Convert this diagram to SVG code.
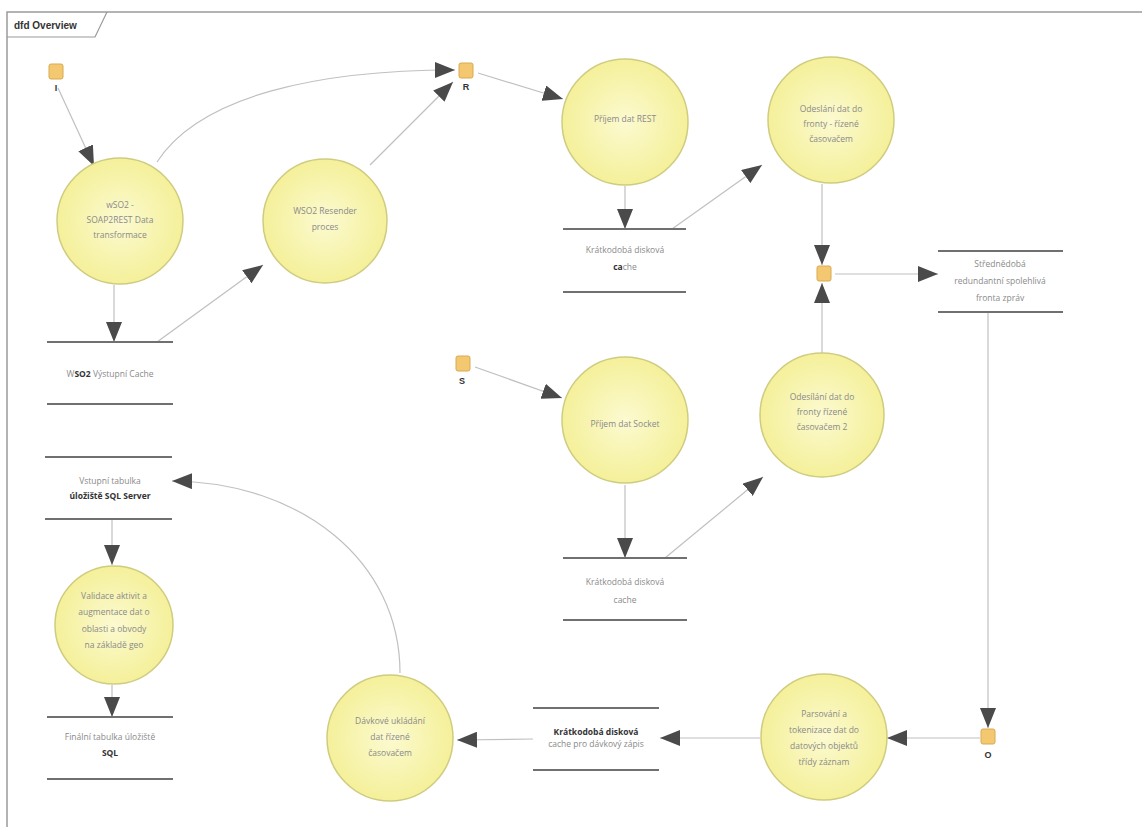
<svg xmlns="http://www.w3.org/2000/svg" width="1142" height="827" viewBox="0 0 1142 827">
<defs>
<radialGradient id="yg" cx="0.5" cy="0.5" r="0.5">
<stop offset="0" stop-color="#fcfad0"/>
<stop offset="1" stop-color="#f4f09a"/>
</radialGradient>
<marker id="ah" viewBox="0 0 20 16" refX="20" refY="8" markerWidth="20" markerHeight="16" markerUnits="userSpaceOnUse" orient="auto">
<path d="M0,0 L20,8 L0,16 z" fill="#4a4a4a"/>
</marker>
</defs>
<style>
.proc{fill:url(#yg);stroke:#cfcc80;stroke-width:1.5}
.t{font-family:"Open Sans","Liberation Sans",sans-serif;font-size:8.5px;fill:#8a8a8a;text-anchor:middle}
.tb{font-family:"Open Sans","Liberation Sans",sans-serif;font-size:8.5px;fill:#333;font-weight:bold;text-anchor:middle}
.sl{stroke:#707070;stroke-width:2}
.port{fill:#f4c870;stroke:#d9aa50;stroke-width:1}
.pl{font-family:"Liberation Sans",sans-serif;font-size:9px;fill:#333;font-weight:bold;text-anchor:middle}
.c{fill:none;stroke:#c0c0c0;stroke-width:1.2;marker-end:url(#ah)}
</style>
<rect width="1142" height="827" fill="#ffffff"/>
<g id="frame">
<path d="M1142,12 L7,12 L7,827" fill="none" stroke="#9a9a9a" stroke-width="1.5"/>
<path d="M7,37 L95,37 L107,12" fill="none" stroke="#9a9a9a" stroke-width="1.2"/>
<text x="14" y="29" font-family="'Liberation Sans',sans-serif" font-size="10px" font-weight="bold" fill="#333">dfd Overview</text>
</g>
<g id="connectors">
<path class="c" d="M58,88 L94,166"/>
<path class="c" d="M157,162 C200,95 320,70 455,70"/>
<path class="c" d="M370,165 L453,82"/>
<path class="c" d="M478,73 L563,99"/>
<path class="c" d="M114,285 L114,342"/>
<path class="c" d="M157,342 L263,265"/>
<path class="c" d="M625,186 L625,229"/>
<path class="c" d="M672,229 L762,165"/>
<path class="c" d="M822,184 L822,265"/>
<path class="c" d="M822,353 L822,283"/>
<path class="c" d="M835,274 L938,274"/>
<path class="c" d="M988,312 L988,728"/>
<path class="c" d="M980,738 L887,738"/>
<path class="c" d="M760,738 L660,738"/>
<path class="c" d="M533,739 L457,740"/>
<path class="c" d="M400,673 C400,560 300,482 172,481"/>
<path class="c" d="M112,519 L112,565"/>
<path class="c" d="M112,685 L112,717"/>
<path class="c" d="M475,367 L562,398"/>
<path class="c" d="M625,485 L625,558"/>
<path class="c" d="M665,558 L763,477"/>
</g>
<g id="port-I"><rect class="port" x="49" y="64" width="14" height="15" rx="2"/><text class="pl" x="56" y="91">I</text></g>
<g id="port-R"><rect class="port" x="459" y="63" width="14" height="15" rx="2"/><text class="pl" x="466" y="90">R</text></g>
<g id="port-S"><rect class="port" x="456" y="356" width="14" height="15" rx="2"/><text class="pl" x="462" y="384">S</text></g>
<g id="port-M"><rect class="port" x="817" y="266" width="14" height="15" rx="2"/></g>
<g id="port-O"><rect class="port" x="981" y="729" width="14" height="15" rx="2"/><text class="pl" x="988" y="758">O</text></g>
<g id="p-wso2">
<circle class="proc" cx="120" cy="221" r="63"/>
<text class="t" x="120" y="208">wSO2 -</text>
<text class="t" x="120" y="223">SOAP2REST Data</text>
<text class="t" x="120" y="238">transformace</text>
</g>
<g id="p-resender">
<circle class="proc" cx="325" cy="221" r="62"/>
<text class="t" x="325" y="214">WSO2 Resender</text>
<text class="t" x="325" y="230">proces</text>
</g>
<g id="p-rest">
<circle class="proc" cx="625" cy="122" r="63"/>
<text class="t" x="625" y="122">Příjem dat REST</text>
</g>
<g id="p-odeslani1">
<circle class="proc" cx="831" cy="120" r="63"/>
<text class="t" x="831" y="112">Odeslání dat do</text>
<text class="t" x="831" y="127">fronty - řízené</text>
<text class="t" x="831" y="142">časovačem</text>
</g>
<g id="p-socket">
<circle class="proc" cx="625" cy="420" r="63"/>
<text class="t" x="625" y="427">Příjem dat Socket</text>
</g>
<g id="p-odeslani2">
<circle class="proc" cx="822" cy="415" r="62"/>
<text class="t" x="822" y="400">Odesílání dat do</text>
<text class="t" x="822" y="415">fronty řízené</text>
<text class="t" x="822" y="430">časovačem 2</text>
</g>
<g id="p-validace">
<circle class="proc" cx="114" cy="625" r="59"/>
<text class="t" x="114" y="599">Validace aktivit a</text>
<text class="t" x="114" y="615">augmentace dat o</text>
<text class="t" x="114" y="632">oblasti a obvody</text>
<text class="t" x="114" y="648">na základě geo</text>
</g>
<g id="p-davkove">
<circle class="proc" cx="390" cy="738" r="63"/>
<text class="t" x="390" y="724">Dávkové ukládání</text>
<text class="t" x="390" y="740">dat řízené</text>
<text class="t" x="390" y="756">časovačem</text>
</g>
<g id="p-parsovani">
<circle class="proc" cx="824" cy="737" r="63"/>
<text class="t" x="824" y="717">Parsování a</text>
<text class="t" x="824" y="733">tokenizace dat do</text>
<text class="t" x="824" y="749">datových objektů</text>
<text class="t" x="824" y="765">třídy záznam</text>
</g>
<g id="s-wso2cache">
<line class="sl" x1="47" y1="342" x2="173" y2="342"/><line class="sl" x1="47" y1="404" x2="173" y2="404"/>
<text class="t" x="110" y="377">W<tspan fill="#333" font-weight="bold">SO2</tspan> Výstupní Cache</text>
</g>
<g id="s-vstupni">
<line class="sl" x1="45" y1="457" x2="172" y2="457"/><line class="sl" x1="45" y1="519" x2="172" y2="519"/>
<text class="t" x="110" y="484">Vstupní tabulka</text>
<text class="tb" x="110" y="499">úložiště SQL Server</text>
</g>
<g id="s-finalni">
<line class="sl" x1="47" y1="717" x2="173" y2="717"/><line class="sl" x1="47" y1="779" x2="173" y2="779"/>
<text class="t" x="110" y="740">Finální tabulka úložiště</text>
<text class="tb" x="110" y="756">SQL</text>
</g>
<g id="s-rest-cache">
<line class="sl" x1="563" y1="229" x2="686" y2="229"/><line class="sl" x1="563" y1="292" x2="686" y2="292"/>
<text class="t" x="625" y="253">Krátkodobá disková</text>
<text class="t" x="625" y="270"><tspan fill="#333" font-weight="bold">ca</tspan>che</text>
</g>
<g id="s-fronta">
<line class="sl" x1="938" y1="251" x2="1063" y2="251"/><line class="sl" x1="938" y1="312" x2="1063" y2="312"/>
<text class="t" x="1000" y="267">Střednědobá</text>
<text class="t" x="1000" y="284">redundantní spolehlivá</text>
<text class="t" x="1000" y="301">fronta zpráv</text>
</g>
<g id="s-socket-cache">
<line class="sl" x1="563" y1="558" x2="687" y2="558"/><line class="sl" x1="563" y1="620" x2="687" y2="620"/>
<text class="t" x="625" y="585">Krátkodobá disková</text>
<text class="t" x="625" y="603">cache</text>
</g>
<g id="s-davka-cache">
<line class="sl" x1="533" y1="708" x2="659" y2="708"/><line class="sl" x1="533" y1="770" x2="659" y2="770"/>
<text class="tb" x="596" y="735">Krátkodobá disková</text>
<text class="t" x="596" y="747">cache pro dávkový zápis</text>
</g>
</svg>
